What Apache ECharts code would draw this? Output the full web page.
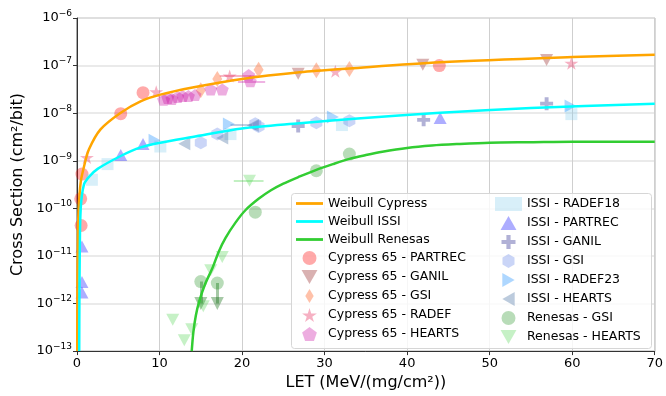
<!DOCTYPE html>
<html>
<head>
<meta charset="utf-8">
<script src="https://cdn.jsdelivr.net/npm/echarts@6/dist/echarts.min.js"></script>
<style>
html, body { margin: 0; padding: 0; background: #fff; }
#chart { width: 666px; height: 396px; }
</style>
</head>
<body>
<div id="chart"></div>
<script>
// x = LET (MeV/(mg/cm2)), y = log10 of cross section (cm2/bit)
var weibullCypress = [[0.03,-13],[0.06,-11.5],[0.12,-10.5],[0.2,-10.0],[0.45,-9.45],[0.85,-9.12],[1.45,-8.76],[2.85,-8.34],[5.3,-7.99],[7.7,-7.75],[10.1,-7.61],[14,-7.46],[20,-7.28],[27,-7.14],[33,-7.06],[44,-6.93],[60,-6.82],[70,-6.77]];
var weibullIssi = [[0.27,-13],[0.29,-12],[0.33,-11],[0.45,-10.0],[0.84,-9.5],[1.5,-9.33],[2.5,-9.17],[5.3,-8.9],[7.7,-8.72],[10.1,-8.62],[14,-8.5],[20,-8.32],[27,-8.21],[34,-8.11],[44,-7.99],[55,-7.89],[70,-7.8]];
var weibullRenesas = [[13.9,-13],[14.1,-12.6],[14.4,-12.25],[14.8,-11.96],[15.5,-11.6],[16.4,-11.26],[17.2,-10.9],[18.0,-10.62],[19.2,-10.3],[20.4,-10.04],[22,-9.8],[23.5,-9.62],[25,-9.48],[27,-9.33],[29,-9.19],[31,-9.07],[33,-8.96],[35,-8.88],[37,-8.81],[40,-8.73],[43,-8.68],[46,-8.65],[50,-8.62],[55,-8.61],[60,-8.6],[70,-8.6]];

var cyPartrec = [[0.6,-9.28],[0.45,-9.8],[0.5,-10.36],[5.3,-8.01],[8.0,-7.57],[43.9,-7.0]];
var cyGanil = [[26.8,-7.17],[41.9,-6.98],[56.9,-6.88]];
var cyGsi = [[15.0,-7.52],[17.0,-7.28],[22.0,-7.09],[29.0,-7.1],[33.0,-7.07]];
var cyRadef = [[1.2,-8.93],[9.6,-7.55],[18.5,-7.22],[31.3,-7.12],[59.9,-6.95]];
var cyHearts = [[10.5,-7.72],[11.0,-7.68],[11.5,-7.7],[12.2,-7.66],[12.8,-7.64],[13.5,-7.64],[14.3,-7.62],[16.2,-7.5],[17.6,-7.5],[20.8,-7.2],[21.0,-7.33]];
var issiRadef18 = [[1.8,-9.4],[3.7,-9.07],[10.1,-8.7],[18.6,-8.44],[32.1,-8.25],[59.9,-8.02]];
var issiPartrec = [[0.6,-10.8],[0.6,-11.55],[0.6,-11.77],[5.3,-8.88],[8.0,-8.65],[44.0,-8.1]];
var issiGanil = [[26.8,-8.27],[42.0,-8.14],[56.9,-7.8]];
var issiGsi = [[15.0,-8.62],[17.0,-8.44],[21.6,-8.22],[22.0,-8.28],[29.0,-8.2],[33.0,-8.16]];
var issiRadef23 = [[9.4,-8.57],[18.4,-8.23],[31.0,-8.08],[59.8,-7.85]];
var issiHearts = [[13.0,-8.64],[17.6,-8.52],[21.3,-8.26]];
var reGsi = [[15.0,-11.54],[17.0,-11.57],[21.6,-10.08],[29.0,-9.21],[33.0,-8.86]];
var reHearts = [[11.6,-12.34],[13.0,-12.77],[13.9,-12.54],[15.3,-12.06],[16.2,-11.3],[17.6,-11.02],[20.9,-9.42]];

// error bars: [x1, y1, x2, y2]
var reGsiLimits = [[15.0,-11.54,15.0,-12.0],[17.0,-11.57,17.0,-12.0]];
var hBars = [[17.3,-7.22,21.8,-7.22,'rgba(230,40,90,0.45)'],[19.5,-7.33,22.8,-7.33,'rgba(200,0,160,0.4)'],[18.6,-8.24,21.2,-8.24,'rgba(70,110,170,0.45)'],[19.0,-9.42,22.6,-9.42,'rgba(50,205,50,0.4)']];

function toPts(arr) {
    return arr.map(function (p) { return [p[0], Math.pow(10, p[1])]; });
}

var sym = {
    down: 'path://M0,0 L100,0 L50,88 Z',
    up: 'path://M50,0 L100,88 L0,88 Z',
    right: 'path://M0,0 L88,50 L0,100 Z',
    left: 'path://M88,0 L0,50 L88,100 Z',
    star: 'path://M50,0 L61,35 L98,35 L68,57 L79,91 L50,70 L21,91 L32,57 L2,35 L39,35 Z',
    pentagon: 'path://M50,0 L98,35 L79,91 L21,91 L2,35 Z',
    hexagon: 'path://M50,0 L93,25 L93,75 L50,100 L7,75 L7,25 Z',
    plus: 'path://M35,0 L65,0 L65,35 L100,35 L100,65 L65,65 L65,100 L35,100 L35,65 L0,65 L0,35 L35,35 Z',
    thinDiamond: 'path://M30,0 L60,50 L30,100 L0,50 Z',
    bar: 'path://M0,0 L270,0 L270,28 L0,28 Z'
};

function scatter(name, data, symbol, size, color) {
    return {
        name: name, type: 'scatter', data: toPts(data),
        symbol: symbol, symbolSize: size,
        itemStyle: { color: color }, z: 3
    };
}

function curve(name, data, color) {
    return {
        name: name, type: 'line', data: toPts(data), smooth: 0.3,
        symbol: 'none', lineStyle: { color: color, width: 2.5 },
        itemStyle: { color: color }, z: 4
    };
}

var col1 = ['Weibull Cypress', 'Weibull ISSI', 'Weibull Renesas', 'Cypress 65 - PARTREC', 'Cypress 65 - GANIL', 'Cypress 65 - GSI', 'Cypress 65 - RADEF', 'Cypress 65 - HEARTS'];
var col2 = ['ISSI - RADEF18', 'ISSI - PARTREC', 'ISSI - GANIL', 'ISSI - GSI', 'ISSI - RADEF23', 'ISSI - HEARTS', 'Renesas - GSI', 'Renesas - HEARTS'];

var font = 'DejaVu Sans';
var chart = echarts.init(document.getElementById('chart'));

var legendCommon = {
    orient: 'vertical', top: 197, padding: 0, itemGap: 5,
    itemWidth: 27, itemHeight: 14,
    textStyle: { fontFamily: font, fontSize: 12.5, color: '#000' },
    z: 6
};

option = {
    animation: false,
    textStyle: { fontFamily: font },
    grid: { left: 77, right: 9, top: 18, bottom: 43, show: true, borderColor: '#555', borderWidth: 1 },
    xAxis: {
        type: 'value', min: 0, max: 70, interval: 10,
        name: 'LET (MeV/(mg/cm²))', nameLocation: 'middle', nameGap: 23,
        nameTextStyle: { fontFamily: font, fontSize: 16, color: '#000' },
        axisLine: { lineStyle: { color: '#333' } },
        axisTick: { length: 4, lineStyle: { color: '#333' } },
        axisLabel: { fontFamily: font, fontSize: 13, color: '#000', margin: 6 },
        splitLine: { lineStyle: { color: '#cfcfcf', width: 1 } }
    },
    yAxis: {
        type: 'log', logBase: 10, min: 1e-13, max: 1e-6,
        name: 'Cross Section (cm²/bit)', nameLocation: 'middle', nameGap: 49,
        nameTextStyle: { fontFamily: font, fontSize: 16, color: '#000' },
        axisLine: { lineStyle: { color: '#333' } },
        axisTick: { length: 4, lineStyle: { color: '#333' } },
        axisLabel: {
            margin: 5,
            formatter: function (v) {
                var e = Math.round(Math.log10(v));
                return '{b|10}{s|\u2212' + (-e) + '}';
            },
            rich: {
                b: { fontFamily: font, fontSize: 13, color: '#000', lineHeight: 18 },
                s: { fontFamily: font, fontSize: 9, color: '#000', lineHeight: 9, verticalAlign: 'top' }
            }
        },
        splitLine: { lineStyle: { color: '#e3e3e3', width: 1.5 } }
    },
    legend: [
        Object.assign({
            left: 296,
            data: col1.map(function (n, i) { return i < 3 ? { name: n, icon: sym.bar } : n; })
        }, legendCommon),
        Object.assign({ left: 495, data: col2 }, legendCommon)
    ],
    graphic: [{
        type: 'rect', left: 291, top: 193, z: 5,
        shape: { width: 360, height: 155, r: 3 },
        style: { fill: 'rgba(255,255,255,0.8)', stroke: '#d6d6d6', lineWidth: 1 }
    }],
    series: [
        curve('Weibull Cypress', weibullCypress, '#ffa500'),
        curve('Weibull ISSI', weibullIssi, '#00ffff'),
        curve('Weibull Renesas', weibullRenesas, '#32cd32'),
        scatter('Cypress 65 - PARTREC', cyPartrec, 'circle', 13, 'rgba(255,0,0,0.42)'),
        scatter('Cypress 65 - GANIL', cyGanil, sym.down, [13, 12], 'rgba(150,40,40,0.45)'),
        scatter('Cypress 65 - GSI', cyGsi, sym.thinDiamond, [10, 16], 'rgba(255,100,40,0.5)'),
        scatter('Cypress 65 - RADEF', cyRadef, sym.star, [14, 13], 'rgba(230,40,90,0.45)'),
        scatter('Cypress 65 - HEARTS', cyHearts, sym.pentagon, [13, 12], 'rgba(200,0,160,0.4)'),
        scatter('ISSI - RADEF18', issiRadef18, 'rect', 12, 'rgba(135,206,235,0.4)'),
        scatter('ISSI - PARTREC', issiPartrec, sym.up, [13, 12], 'rgba(0,0,255,0.4)'),
        scatter('ISSI - GANIL', issiGanil, sym.plus, 13, 'rgba(40,40,140,0.45)'),
        scatter('ISSI - GSI', issiGsi, sym.hexagon, [12, 13], 'rgba(65,105,225,0.35)'),
        scatter('ISSI - RADEF23', issiRadef23, sym.right, [12, 13], 'rgba(30,144,255,0.45)'),
        scatter('ISSI - HEARTS', issiHearts, sym.left, [12, 13], 'rgba(70,110,160,0.45)'),
        scatter('Renesas - GSI', reGsi, 'circle', 13, 'rgba(0,128,0,0.35)'),
        scatter('Renesas - HEARTS', reHearts, sym.down, [13, 12], 'rgba(50,205,50,0.35)'),
        {
            type: 'lines', coordinateSystem: 'cartesian2d', z: 3,
            symbol: ['none', 'triangle'], symbolSize: 13,
            lineStyle: { color: 'rgba(0,100,0,0.35)', width: 3, opacity: 1 },
            data: reGsiLimits.map(function (b) {
                return { coords: [[b[0], Math.pow(10, b[1])], [b[2], Math.pow(10, b[3])]] };
            })
        },
        {
            type: 'lines', coordinateSystem: 'cartesian2d', z: 3,
            lineStyle: { width: 1.5, opacity: 1 },
            data: hBars.map(function (b) {
                return { coords: [[b[0], Math.pow(10, b[1])], [b[2], Math.pow(10, b[3])]], lineStyle: { color: b[4] } };
            })
        }
    ]
};

chart.setOption(option);
</script>
</body>
</html>
